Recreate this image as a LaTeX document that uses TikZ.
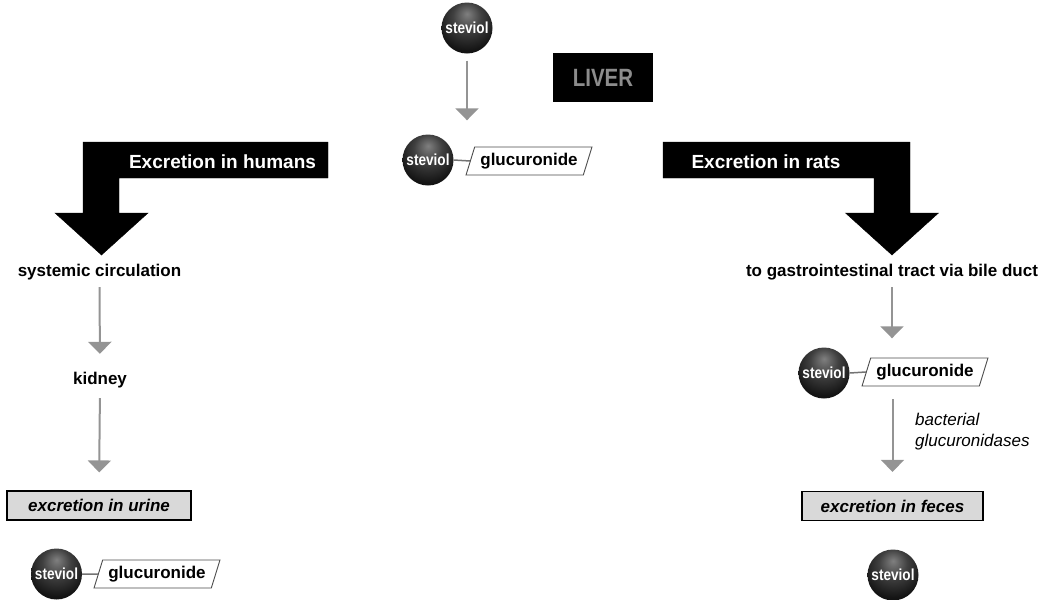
\documentclass[tikz,border=0pt]{standalone}
\usepackage{fontspec}
\setmainfont{Liberation Sans}
\usetikzlibrary{shapes.geometric,arrows.meta,calc}
\pgfdeclareradialshading{sph}{\pgfpoint{0bp}{14bp}}{color(0bp)=(black!50); color(14bp)=(black!75); color(30bp)=(black!92); color(50bp)=(black); color(70bp)=(black)}
\tikzset{
  ball/.style={circle, minimum size=51pt, inner sep=0pt, shading=sph, draw=none,
    font=\fontsize{16}{16}\selectfont\bfseries, text=white},
  gluc/.style={trapezium, trapezium left angle=68, trapezium right angle=112, draw=black!70, line width=0.9pt,
    fill=white, minimum height=28pt, minimum width=126pt, inner sep=2pt, trapezium stretches=true,
    font=\fontsize{17}{17}\selectfont\bfseries},
  link/.style={draw=black!55, line width=1.5pt},
  garrow/.style={draw=black!42, line width=2pt, -{Triangle[width=23pt,length=12pt]}},
  lbl/.style={inner sep=0pt, text height=12pt, text depth=4pt, font=\fontsize{17}{17}\selectfont\bfseries},
  outbox/.style={draw=black, line width=1.2pt, fill=black!15, inner sep=0pt, minimum height=29pt,
    font=\fontsize{17}{17}\selectfont\bfseries\itshape},
  bigarrow/.style={fill=black},
  bartext/.style={text=white, inner sep=0pt, font=\fontsize{19}{19}\selectfont\bfseries},
}
\newcommand{\stv}{\scalebox{0.85}[1]{steviol}}
\begin{document}
\begin{tikzpicture}[x=1pt,y=-1pt]
\useasboundingbox (0,0) rectangle (1053,600);

% top
\node[ball] (s1) at (467,28) {\stv};
\node[fill=black, minimum width=100pt, minimum height=49pt, inner sep=0pt,
  text=black!45, font=\fontsize{25}{25}\selectfont\bfseries] (liver) at (603,77.5) {\scalebox{0.82}[1]{LIVER}};
\node[ball] (s2) at (428,160) {\stv};
\node[gluc] (g2) at (529,161) {glucuronide};
\draw[link] (s2.east) -- (g2.west);
\draw[garrow, shorten <=7pt, shorten >=14pt] (s1.south) -- (s1.south |- s2.north);

% big arrows
\draw[bigarrow] (328,142) -- (83,142) -- (83,213) -- (55,213) -- (101.5,255) -- (148,213) -- (119,213) -- (119,178) -- (328,178) -- cycle;
\node[bartext] (hum) at (222.5,162) {Excretion in humans};
\draw[bigarrow] (663,142) -- (910,142) -- (910,213) -- (938.5,213) -- (892,255) -- (845.5,213) -- (874,213) -- (874,178) -- (663,178) -- cycle;
\node[bartext] (rat) at (766,162) {Excretion in rats};

% humans
\node[lbl] (sys) at (99.5,272) {systemic circulation};
\node[lbl] (kid) at (100,380) {kidney};
\node[outbox, minimum width=184pt] (urine) at (99,505.5) {excretion in urine};
\draw[garrow, shorten <=7pt, shorten >=18pt] (sys.south) -- (kid.north);
\draw[garrow, shorten <=10pt, shorten >=18pt] (kid.south) -- (urine.north);
\node[ball] (s3) at (56.5,574) {\stv};
\node[gluc] (g3) at (157,574) {glucuronide};
\draw[link] (s3.east) -- (g3.west);

% rats
\node[lbl] (gi) at (892,272) {to gastrointestinal tract via bile duct};
\node[ball] (s4) at (824,373) {\stv};
\node[gluc] (g4) at (925,372) {glucuronide};
\draw[link] (s4.east) -- (g4.west);
\draw[garrow, shorten <=7pt, shorten >=9pt] (gi.south) -- (gi.south |- s4.north);
\node[outbox, minimum width=181pt] (feces) at (892.5,506) {excretion in feces};
\draw[garrow, shorten <=13pt, shorten >=19pt] (feces.north |- g4.south) -- (feces.north);
\node[anchor=west, align=left, inner sep=0pt, font=\fontsize{17}{21}\selectfont\itshape] (bact) at (915,432) {bacterial\\glucuronidases};
\node[ball] (s5) at (893,575) {\stv};
\end{tikzpicture}
\end{document}
